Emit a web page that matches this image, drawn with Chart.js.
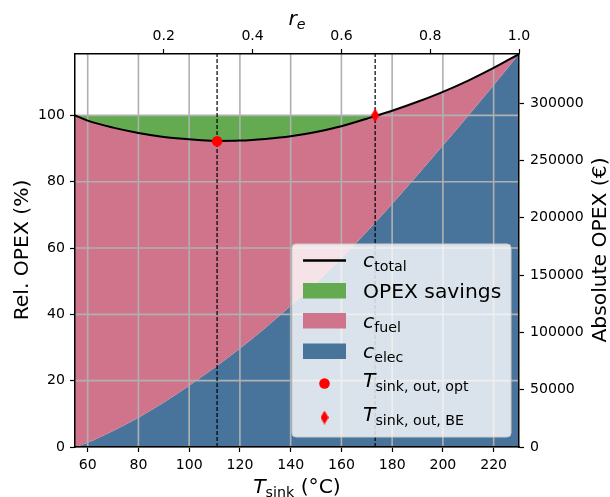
<!DOCTYPE html>
<html>
<head>
<meta charset="utf-8">
<script src="https://cdn.jsdelivr.net/npm/chart.js@4.4.0/dist/chart.umd.min.js"></script>
<style>
    html, body { margin: 0; padding: 0; background: #fff; }
    #wrap { width: 610px; height: 497px; }
</style>
</head>
<body>
<div id="wrap"><canvas id="opexChart" width="610" height="497"></canvas></div>
<script>
// sink temperature (°C) and cost shares, % of the reference OPEX
const tSink  = [55, 60, 70, 80, 90, 100, 110, 120, 130, 140, 150, 160, 170, 180, 190, 200, 210, 220, 230];
const cTotal = [100, 98.4, 96.3, 94.7, 93.5, 92.8, 92.3, 92.4, 92.9, 93.7, 95.0, 96.7, 99.0, 101.4, 104.1, 107.1, 110.5, 114.3, 118.5];
const cElec  = [0, 1.3, 4.8, 8.8, 13.4, 18.5, 23.9, 29.7, 35.9, 42.5, 49.5, 56.9, 64.9, 73.3, 82.0, 90.9, 99.9, 109.1, 118.5];
const refLevel = 100;

// marked operating points
const tOpt = 111, cOpt = 92.2;
const tBE = 173.3, cBE = 100;

// axes
const xTicks = [60, 80, 100, 120, 140, 160, 180, 200, 220];
const reTicks = [0.2, 0.4, 0.6, 0.8, 1.0];
const relTicks = [0, 20, 40, 60, 80, 100];
const absTicks = [0, 50000, 100000, 150000, 200000, 250000, 300000];
const xMin = 55, xMax = 230;
const relMax = 118.5, absMax = 342800;

const BLUE = "#48749c";
const PINK = "#d0748c";
const GREEN = "#63aa50";
const FONT = '"DejaVu Sans"';
const BIG = 20.3;

const pts = ys => tSink.map((t, i) => ({ x: t, y: ys[i] }));

function thinDiamond(w, h, color) {
    const c = document.createElement("canvas");
    c.width = w; c.height = h;
    const g = c.getContext("2d");
    g.fillStyle = color;
    g.beginPath();
    g.moveTo(w / 2, 0); g.lineTo(w, h / 2); g.lineTo(w / 2, h); g.lineTo(0, h / 2);
    g.closePath();
    g.fill();
    return c;
}
const diamondImg = thinDiamond(8, 14, "red");

// parts: [text, kind]  kind: i = italic, r = roman, si/sr = subscript
function drawMath(ctx, parts, x, y, align, size) {
    const fontFor = p => {
        const sub = p[1][0] === "s";
        const it = p[1].endsWith("i");
        return (it ? "italic " : "") + (sub ? size * 0.7 : size) + "px " + FONT;
    };
    let w = 0;
    parts.forEach(p => { ctx.font = fontFor(p); w += ctx.measureText(p[0]).width; });
    let cx = align === "center" ? x - w / 2 : x;
    ctx.textAlign = "left";
    ctx.textBaseline = "alphabetic";
    parts.forEach(p => {
        ctx.font = fontFor(p);
        ctx.fillText(p[0], cx, p[1][0] === "s" ? y + size * 0.22 : y);
        cx += ctx.measureText(p[0]).width;
    });
}

const decor = {
    id: "decor",
    beforeDatasetsDraw(chart) {
        // grid sits above the filled areas, below the lines
        const { ctx, chartArea: a, scales } = chart;
        ctx.save();
        ctx.strokeStyle = "#b0b0b0";
        ctx.lineWidth = 1.6;
        ctx.beginPath();
        xTicks.forEach(v => {
            const px = scales.x.getPixelForValue(v);
            ctx.moveTo(px, a.top); ctx.lineTo(px, a.bottom);
        });
        relTicks.forEach(v => {
            const py = scales.y.getPixelForValue(v);
            ctx.moveTo(a.left, py); ctx.lineTo(a.right, py);
        });
        ctx.stroke();
        ctx.restore();
    },
    afterDraw(chart) {
        const ctx = chart.ctx;
        ctx.save();
        ctx.fillStyle = "#000";

        // axis titles
        drawMath(ctx, [["T", "i"], ["sink", "sr"], [" (°C)", "r"]], 297, 493, "center", BIG);
        drawMath(ctx, [["r", "i"], ["e", "si"]], 297, 25, "center", BIG);
        ctx.save();
        ctx.translate(28, 250);
        ctx.rotate(-Math.PI / 2);
        drawMath(ctx, [["Rel. OPEX (%)", "r"]], 0, 0, "center", BIG);
        ctx.restore();
        ctx.save();
        ctx.translate(606, 250);
        ctx.rotate(-Math.PI / 2);
        drawMath(ctx, [["Absolute OPEX (€)", "r"]], 0, 0, "center", BIG);
        ctx.restore();

        // legend box
        const lx = 292, ly = 244, lw = 219, lh = 193, r = 4;
        ctx.beginPath();
        ctx.roundRect(lx, ly, lw, lh, r);
        ctx.fillStyle = "rgba(255,255,255,0.8)";
        ctx.fill();
        ctx.strokeStyle = "#cccccc";
        ctx.lineWidth = 1;
        ctx.stroke();

        const hx = 303, hw = 43, tx = 363;
        ctx.strokeStyle = "#000";
        ctx.lineWidth = 2.5;
        ctx.beginPath();
        ctx.moveTo(hx, 260.5); ctx.lineTo(hx + hw, 260.5);
        ctx.stroke();
        [[GREEN, 283], [PINK, 313], [BLUE, 343.5]].forEach(([c, y]) => {
            ctx.fillStyle = c;
            ctx.fillRect(hx, y, hw, 15.5);
        });
        ctx.fillStyle = "red";
        ctx.beginPath();
        ctx.arc(hx + hw / 2, 383.5, 5.3, 0, Math.PI * 2);
        ctx.fill();
        ctx.drawImage(diamondImg, hx + hw / 2 - 4, 417.5 - 7);

        ctx.fillStyle = "#000";
        drawMath(ctx, [["c", "i"], ["total", "sr"]], tx, 266.5, "left", BIG);
        drawMath(ctx, [["OPEX savings", "r"]], tx, 297.5, "left", BIG);
        drawMath(ctx, [["c", "i"], ["fuel", "sr"]], tx, 327.5, "left", BIG);
        drawMath(ctx, [["c", "i"], ["elec", "sr"]], tx, 357.5, "left", BIG);
        drawMath(ctx, [["T", "i"], ["sink, out, opt", "sr"]], tx, 387, "left", BIG);
        drawMath(ctx, [["T", "i"], ["sink, out, BE", "sr"]], tx, 421, "left", BIG);
        ctx.restore();
    }
};

const tickFont = { family: FONT, size: 14.1 };
const tickGrid = { drawOnChartArea: false, drawTicks: true, tickLength: 5, tickColor: "#000", tickWidth: 1.2 };
const spine = { display: true, color: "#000", width: 1.5, z: 1 };

const datasets = [
    { // 0 optimum marker
        data: [{ x: tOpt, y: cOpt }], showLine: false,
        pointRadius: 5.3, pointBackgroundColor: "red", pointBorderWidth: 0
    },
    { // 1 break-even marker
        data: [{ x: tBE, y: cBE }], showLine: false,
        pointRadius: 7, pointStyle: diamondImg
    },
    { // 2 total cost, fuel share filled down to the electricity curve
        data: pts(cTotal), borderColor: "#000", borderWidth: 2,
        backgroundColor: PINK, fill: 5, pointRadius: 0, cubicInterpolationMode: "monotone"
    },
    { // 3
        data: [{ x: tOpt, y: 0 }, { x: tOpt, y: relMax }], borderColor: "#000",
        borderWidth: 1.2, borderDash: [4, 2], pointRadius: 0, fill: false
    },
    { // 4
        data: [{ x: tBE, y: 0 }, { x: tBE, y: relMax }], borderColor: "#000",
        borderWidth: 1.2, borderDash: [4, 2], pointRadius: 0, fill: false
    },
    { // 5 electricity cost
        data: pts(cElec), borderWidth: 0, backgroundColor: BLUE,
        fill: "origin", pointRadius: 0, cubicInterpolationMode: "monotone"
    },
    { // 6 reference level, green where the total drops below it
        data: tSink.map(t => ({ x: t, y: refLevel })), borderWidth: 0, pointRadius: 0,
        fill: { target: 2, above: GREEN, below: "rgba(0,0,0,0)" }
    }
];

new Chart(document.getElementById("opexChart"), {
    type: "line",
    data: { datasets: datasets },
    options: {
        responsive: false,
        animation: false,
        layout: { padding: 0 },
        plugins: {
            legend: { display: false },
            tooltip: { enabled: false },
            filler: { drawTime: "beforeDatasetsDraw" }
        },
        scales: {
            x: {
                type: "linear", position: "bottom", min: xMin, max: xMax,
                afterBuildTicks: s => { s.ticks = xTicks.map(v => ({ value: v })); },
                afterFit: s => { s.height = 50; },
                ticks: { font: tickFont, color: "#000", padding: 5, maxRotation: 0, callback: v => String(v) },
                grid: tickGrid, border: spine
            },
            x2: {
                type: "linear", position: "top", min: 0, max: 1,
                afterBuildTicks: s => { s.ticks = reTicks.map(v => ({ value: v })); },
                afterFit: s => { s.height = 54; },
                ticks: { font: tickFont, color: "#000", padding: 4, maxRotation: 0, callback: v => v.toFixed(1) },
                grid: tickGrid, border: spine
            },
            y: {
                type: "linear", position: "left", min: 0, max: relMax,
                afterBuildTicks: s => { s.ticks = relTicks.map(v => ({ value: v })); },
                afterFit: s => { s.width = 75; },
                ticks: { font: tickFont, color: "#000", padding: 5, callback: v => String(v) },
                grid: tickGrid, border: spine
            },
            y2: {
                type: "linear", position: "right", min: 0, max: absMax,
                afterBuildTicks: s => { s.ticks = absTicks.map(v => ({ value: v })); },
                afterFit: s => { s.width = 91; },
                ticks: { font: tickFont, color: "#000", padding: 6, callback: v => String(v) },
                grid: tickGrid, border: spine
            }
        }
    },
    plugins: [decor]
});
</script>
</body>
</html>
